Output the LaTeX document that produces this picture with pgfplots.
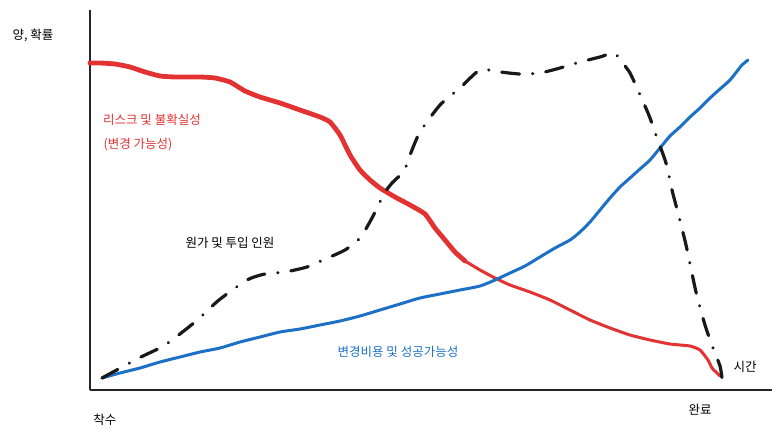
\documentclass[border=0pt]{standalone}
\usepackage{fontspec}
\setmainfont{Noto Sans CJK KR}
\usepackage{pgfplots}
\pgfplotsset{compat=1.18}

\definecolor{riskred}{RGB}{226,50,50}
\definecolor{costblue}{RGB}{28,112,198}

\begin{document}
\begin{tikzpicture}
\begin{axis}[
  scale only axis,
  width=682pt, height=380pt,
  xmin=90, xmax=772, ymin=50, ymax=430,
  axis x line=bottom, axis y line=left,
  axis line style={-, line width=1.2pt, black!85},
  xtick=\empty, ytick=\empty,
  clip=false,
  every axis plot/.append style={line cap=round, line join=round, smooth, tension=0.4},
]
% risk / uncertainty (y = 440 - pixel row)
\addplot[riskred, line width=4.8pt, tension=0.3] coordinates {
(90,377) (100,377) (115,376) (130,373) (145,368) (160,364) (175,363) (200,363)
(215,362) (230,358) (245,349) (260,343) (280,337) (300,330) (320,323) (330,318)
(340,305) (350,285) (360,270) (370,260) (380,252) (395,243) (410,235) (425,226)
(435,212) (445,200) (455,188) (465,179)
};
\addplot[riskred, line width=3pt, tension=0.3] coordinates {
(465,179) (480,170) (495,162) (510,155) (530,148) (550,140) (570,130) (590,120)
(610,112) (630,105) (650,100) (670,96) (690,94) (700,90) (708,80) (712,72)
(718,66) (720,64)
};
% change cost / chance of success
\addplot[costblue, line width=3pt] coordinates {
(102,62) (120,67) (140,72) (160,78) (180,83) (200,88) (220,92) (240,98)
(260,103) (280,108) (300,111) (320,115) (340,119) (360,124) (380,130) (400,136)
(420,142) (440,146) (460,150) (480,154) (495,160) (510,167) (525,174) (540,183)
(555,192) (570,200) (580,208) (590,218) (600,230) (610,242) (620,253) (630,262)
(640,271) (650,280) (660,292) (670,304) (680,313) (690,323) (700,332) (710,342)
(720,351) (730,360) (738,370) (742,375) (748,380)
};
% cost and staffing
\addplot[black!90, line width=3.2pt, dash pattern=on 18pt off 13pt on 0.2pt off 13pt] coordinates {
(102,62) (139,82) (165,95) (195,118) (219,140) (247,160) (265,166)
(285,168) (307,173) (323,180) (345,190) (360,202) (372,222) (384,246) (392,257)
(404,269) (410,285) (420,308) (440,335) (460,352) (480,370) (500,368) (520,366)
(540,367) (560,372) (580,378) (600,383) (614,387) (622,378) (630,367) (637,352)
(645,334) (650,322) (657,302) (666,277) (672,250) (678,227) (686,195) (696,148)
(705,115) (713,92) (720,74) (722,62)
};
\node[anchor=center, font=\fontsize{12.5}{14}\selectfont] at (axis cs:33,405) {양, 확률};
\node[anchor=center, text=riskred, font=\fontsize{12.5}{14}\selectfont] at (axis cs:152,320) {리스크 및 불확실성};
\node[anchor=center, text=riskred, font=\fontsize{12.5}{14}\selectfont] at (axis cs:138,295) {(변경 가능성)};
\node[anchor=center, font=\fontsize{12.5}{14}\selectfont] at (axis cs:230,197) {원가 및 투입 인원};
\node[anchor=center, text=costblue, font=\fontsize{12.5}{14}\selectfont] at (axis cs:398,88) {변경비용 및 성공가능성};
\node[anchor=center, font=\fontsize{12.5}{14}\selectfont] at (axis cs:745,73) {시간};
\node[anchor=center, font=\fontsize{12.5}{14}\selectfont] at (axis cs:105,20) {착수};
\node[anchor=center, font=\fontsize{12.5}{14}\selectfont] at (axis cs:700,30) {완료};
\path[draw=none] (axis cs:0,0) rectangle (axis cs:782,440);
\end{axis}
\end{tikzpicture}
\end{document}
